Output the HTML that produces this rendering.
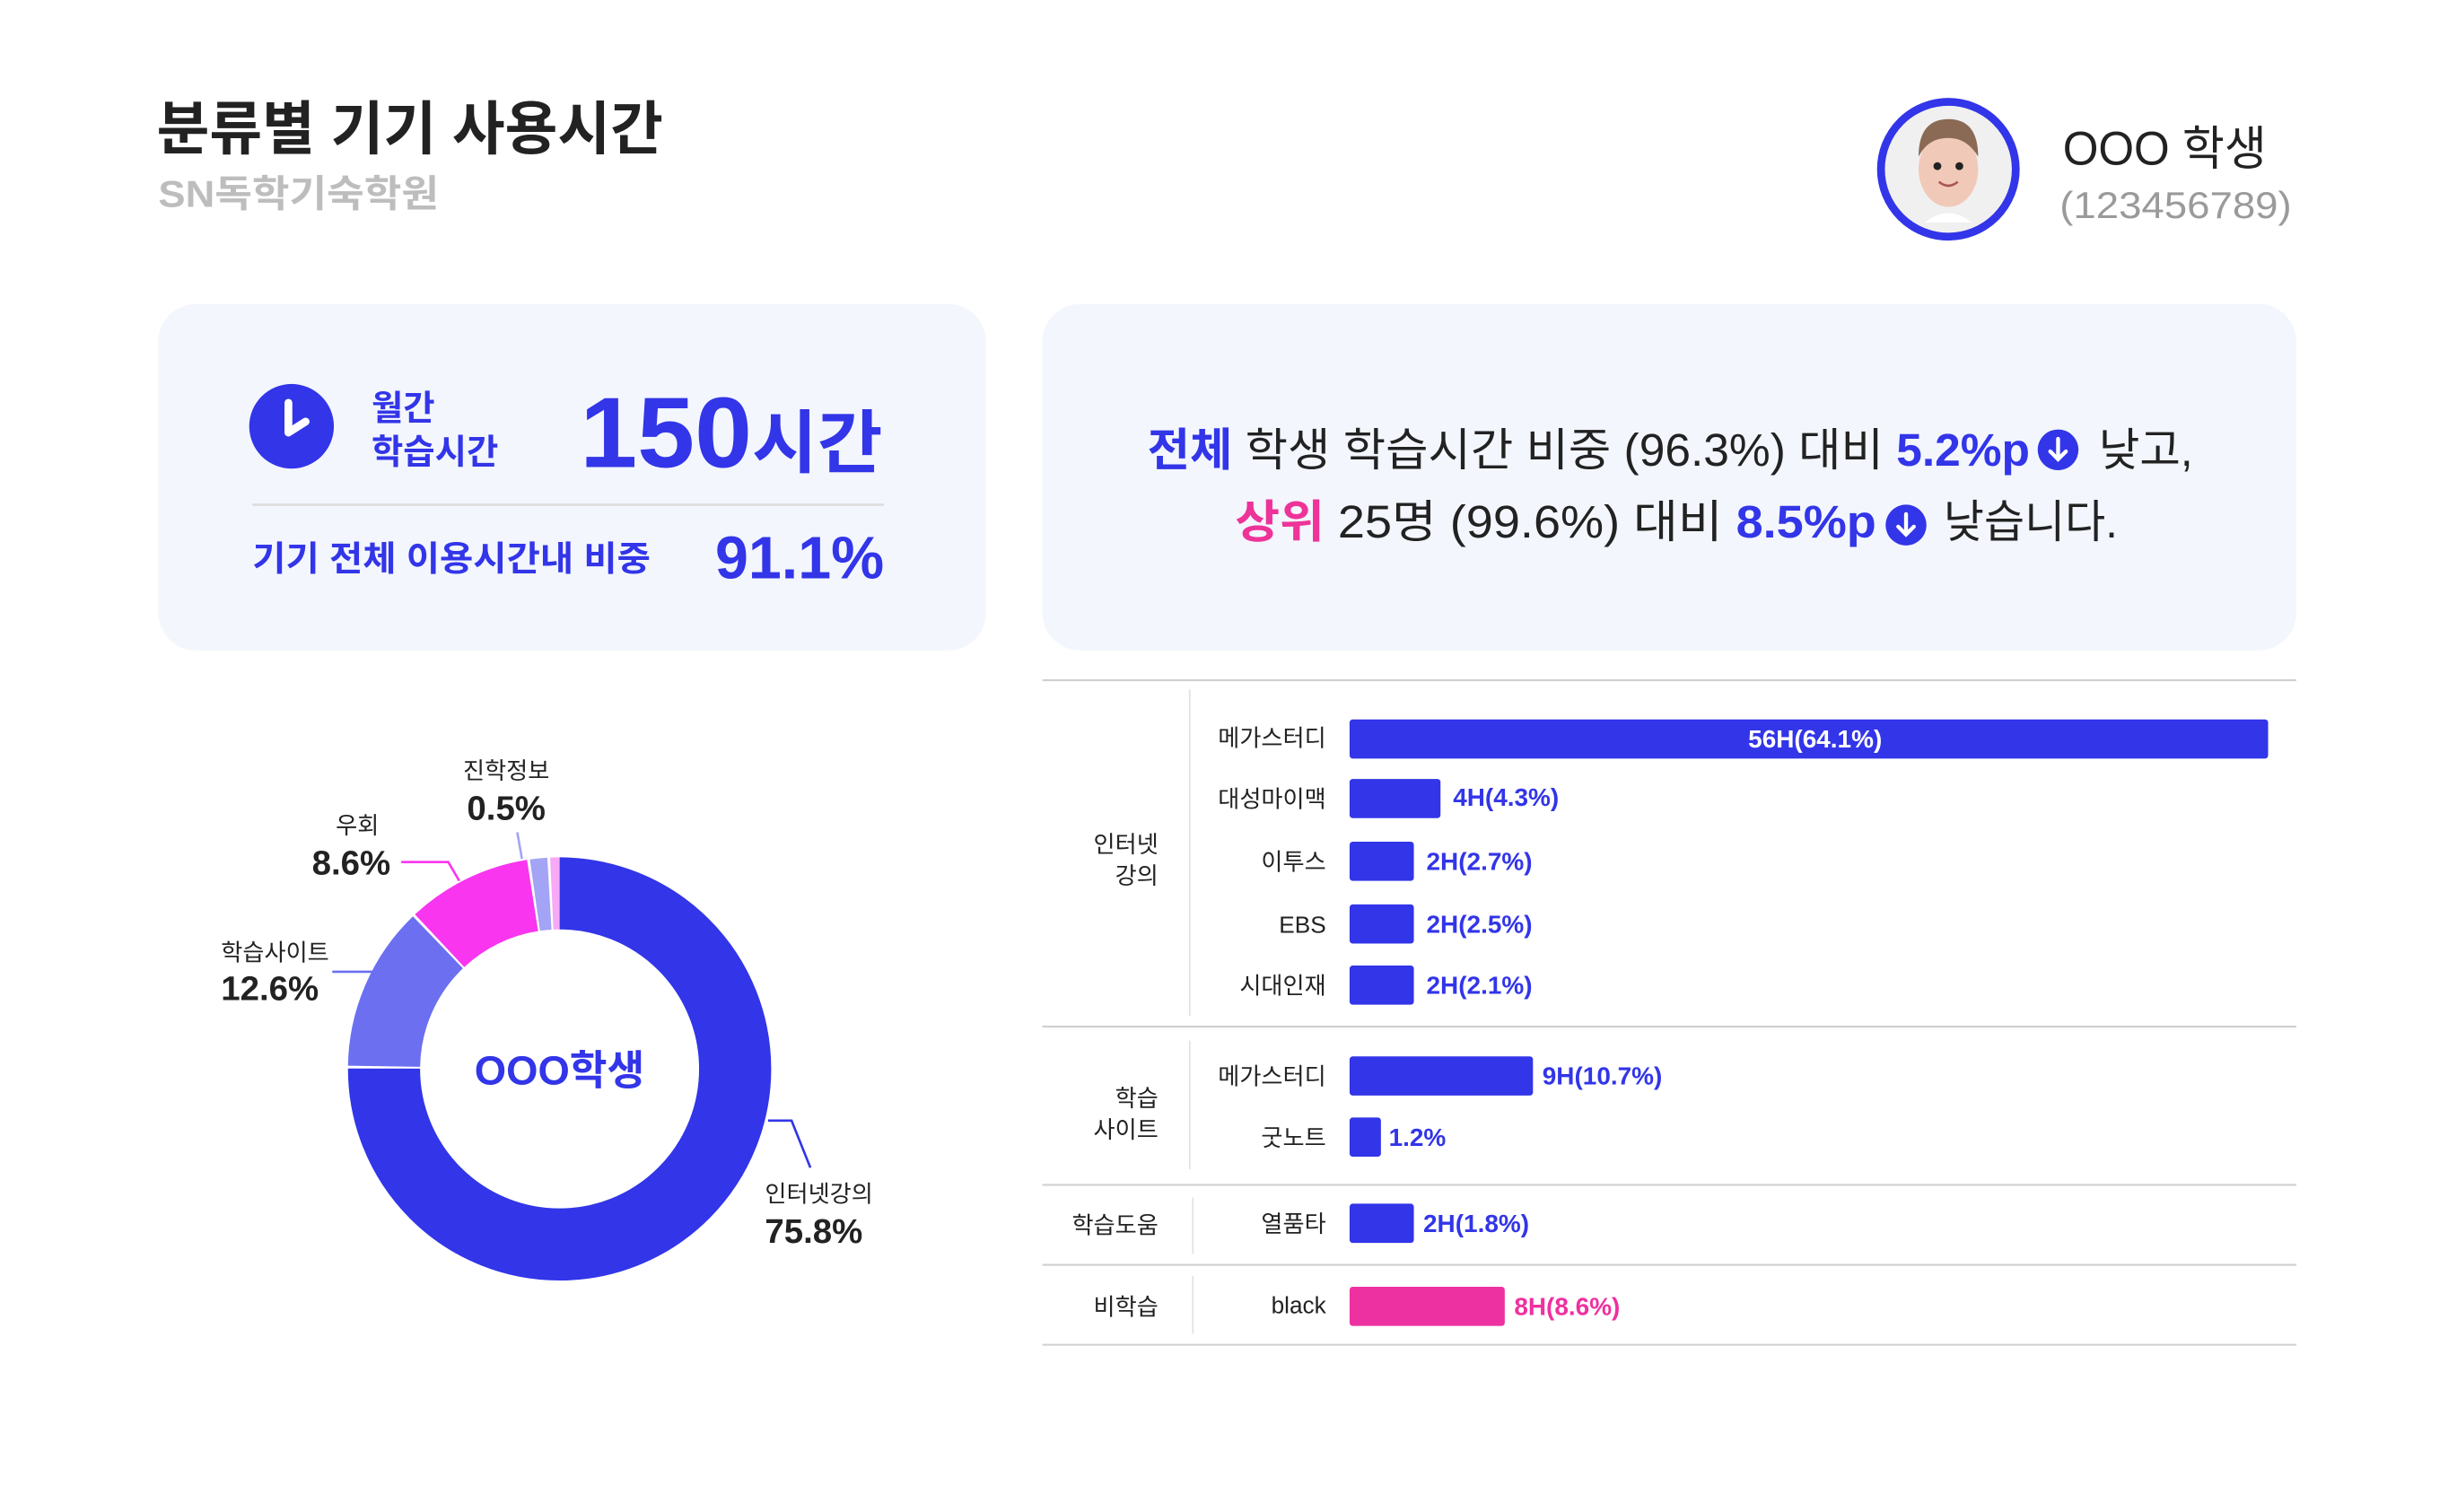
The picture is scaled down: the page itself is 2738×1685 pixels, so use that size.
<!DOCTYPE html>
<html><head><meta charset="utf-8"><style>html,body{margin:0;padding:0;background:#fff}svg{display:block}text{font-family:"Liberation Sans","Noto Sans CJK KR",sans-serif}</style></head>
<body>
<svg width="2738" height="1685" viewBox="0 0 1567.5 964.7" preserveAspectRatio="none" xmlns="http://www.w3.org/2000/svg">
<rect width="1568" height="965" fill="#fff"/>
<text x="100" y="95" font-size="37" font-weight="700" fill="#222" textLength="323" lengthAdjust="spacingAndGlyphs">분류별 기기 사용시간</text>
<text x="101" y="132" font-size="24" font-weight="700" fill="#bdbdbd" textLength="179" lengthAdjust="spacingAndGlyphs">SN독학기숙학원</text>

<circle cx="1243" cy="108" r="43" fill="#f0f0f0" stroke="#3235e8" stroke-width="5"/>
<ellipse cx="1243" cy="108" rx="19" ry="24" fill="#f1c9b8"/>
<path d="M1224 100 Q1224 76 1243 76 Q1262 76 1262 100 Q1255 88 1243 88 Q1230 88 1224 100Z" fill="#8a6a55"/>
<circle cx="1236" cy="106" r="2.5" fill="#222"/><circle cx="1250" cy="106" r="2.5" fill="#222"/>
<path d="M1237 116 Q1243 121 1249 116" stroke="#a55" stroke-width="1.5" fill="none"/>
<path d="M1228 142 Q1243 130 1258 142" fill="#fff"/>
<text x="1316" y="105" font-size="30" fill="#222" textLength="130" lengthAdjust="spacingAndGlyphs">OOO 학생</text>
<text x="1314" y="139" font-size="24" fill="#9a9a9a" textLength="148" lengthAdjust="spacingAndGlyphs">(123456789)</text>

<rect x="101" y="194" width="528" height="221" rx="24" fill="#f3f6fd"/>
<circle cx="186" cy="272" r="27" fill="#3235e8"/>
<path d="M184 257 V276 L195 269" stroke="#fff" stroke-width="5" stroke-linecap="round" stroke-linejoin="round" fill="none"/>
<text x="237" y="268" font-size="22" font-weight="700" fill="#3235e8">월간</text>
<text x="237" y="296" font-size="22" font-weight="700" fill="#3235e8">학습시간</text>
<text x="370" y="298" font-size="64" font-weight="700" fill="#3235e8" textLength="193" lengthAdjust="spacingAndGlyphs">150<tspan font-size="44">시간</tspan></text>
<line x1="161" y1="322" x2="564" y2="322" stroke="#dcdcdc" stroke-width="1.5"/>
<text x="161" y="364" font-size="22" font-weight="700" fill="#3235e8" textLength="254" lengthAdjust="spacingAndGlyphs">기기 전체 이용시간내 비중</text>
<text x="564" y="369" font-size="38" font-weight="700" fill="#3235e8" text-anchor="end">91.1%</text>

<rect x="665" y="194" width="800" height="221" rx="24" fill="#f3f6fd"/>
<text x="732" y="297" font-size="29" fill="#222" textLength="563" lengthAdjust="spacingAndGlyphs"><tspan fill="#3235e8" font-weight="700">전체</tspan> 학생 학습시간 비중 (96.3%) 대비 <tspan fill="#3235e8" font-weight="700">5.2%p</tspan></text>
<circle cx="1313" cy="287" r="13" fill="#3235e8"/>
<path d="M1313 280 V293 M1308 288 L1313 293 L1318 288" stroke="#fff" stroke-width="2.5" fill="none" stroke-linecap="round"/>
<text x="1339" y="297" font-size="29" fill="#222" textLength="60" lengthAdjust="spacingAndGlyphs">낮고,</text>
<text x="788" y="343" font-size="29" fill="#222" textLength="409" lengthAdjust="spacingAndGlyphs"><tspan fill="#ee3399" font-weight="700">상위</tspan> 25명 (99.6%) 대비  <tspan fill="#3235e8" font-weight="700">8.5%p</tspan></text>
<circle cx="1216" cy="335" r="13" fill="#3235e8"/>
<path d="M1216 328 V341 M1211 336 L1216 341 L1221 336" stroke="#fff" stroke-width="2.5" fill="none" stroke-linecap="round"/>
<text x="1240" y="343" font-size="29" fill="#222" textLength="111" lengthAdjust="spacingAndGlyphs">낮습니다.</text>

<g transform="rotate(-90 357 682)" fill="none" stroke-width="46">
<circle cx="357" cy="682" r="112" stroke="#3235e8" stroke-dasharray="527.8 1000"/>
<circle cx="357" cy="682" r="112" stroke="#6b6ff0" stroke-dasharray="88.4 1000" stroke-dashoffset="-529.3"/>
<circle cx="357" cy="682" r="112" stroke="#f935f0" stroke-dasharray="66.9 1000" stroke-dashoffset="-619.2"/>
<circle cx="357" cy="682" r="112" stroke="#a3a4f5" stroke-dasharray="9.3 1000" stroke-dashoffset="-687.6"/>
<circle cx="357" cy="682" r="112" stroke="#f8a9f5" stroke-dasharray="5.2 1000" stroke-dashoffset="-698.4"/>
</g>
<text x="357" y="692" font-size="26" font-weight="700" fill="#3235e8" text-anchor="middle">OOO학생</text>
<text x="323" y="497" font-size="15" fill="#222" text-anchor="middle">진학정보</text>
<text x="323" y="523" font-size="22" font-weight="700" fill="#222" text-anchor="middle">0.5%</text>
<line x1="330" y1="531" x2="333" y2="548" stroke="#a3a4f5" stroke-width="1.5"/>
<text x="228" y="532" font-size="15" fill="#222" text-anchor="middle">우회</text>
<text x="199" y="558" font-size="22" font-weight="700" fill="#222">8.6%</text>
<polyline points="256,550 286,550 293,562" stroke="#f935f0" stroke-width="1.5" fill="none"/>
<text x="141" y="613" font-size="15" fill="#222">학습사이트</text>
<text x="141" y="638" font-size="22" font-weight="700" fill="#222">12.6%</text>
<line x1="212" y1="620" x2="238" y2="620" stroke="#6b6ff0" stroke-width="1.5"/>
<text x="488" y="767" font-size="15" fill="#222">인터넷강의</text>
<text x="488" y="793" font-size="22" font-weight="700" fill="#222">75.8%</text>
<polyline points="490,715 505,715 517,745" stroke="#3235e8" stroke-width="1.5" fill="none"/>

<g stroke="#cfcfcf" stroke-width="1.2">
<line x1="665" y1="434" x2="1465" y2="434"/><line x1="665" y1="655" x2="1465" y2="655"/>
<line x1="665" y1="756" x2="1465" y2="756"/><line x1="665" y1="807" x2="1465" y2="807"/>
<line x1="665" y1="858" x2="1465" y2="858"/>
</g>
<g stroke="#e2e2e2" stroke-width="1">
<line x1="759" y1="440" x2="759" y2="648"/><line x1="759" y1="664" x2="759" y2="746"/>
<line x1="761" y1="764" x2="761" y2="800"/><line x1="761" y1="814" x2="761" y2="851"/>
</g>
<g font-size="15" fill="#222" text-anchor="end">
<text x="739" y="544">인터넷</text><text x="739" y="564">강의</text>
<text x="739" y="706">학습</text><text x="739" y="726">사이트</text>
<text x="739" y="787">학습도움</text><text x="739" y="839">비학습</text>
<text x="846" y="476">메가스터디</text><text x="846" y="515">대성마이맥</text>
<text x="846" y="555">이투스</text><text x="846" y="595">EBS</text>
<text x="846" y="634">시대인재</text><text x="846" y="692">메가스터디</text>
<text x="846" y="731">굿노트</text><text x="846" y="786">열품타</text>
<text x="846" y="838">black</text>
</g>
<g fill="#3235e8">
<rect x="861" y="459" width="586" height="25" rx="2"/>
<rect x="861" y="497" width="58" height="25" rx="2"/>
<rect x="861" y="537" width="41" height="25" rx="2"/>
<rect x="861" y="577" width="41" height="25" rx="2"/>
<rect x="861" y="616" width="41" height="25" rx="2"/>
<rect x="861" y="674" width="117" height="25" rx="2"/>
<rect x="861" y="713" width="20" height="25" rx="2"/>
<rect x="861" y="768" width="41" height="25" rx="2"/>
</g>
<rect x="861" y="821" width="99" height="25" rx="2" fill="#ee31a0"/>
<text x="1158" y="477" font-size="16" font-weight="700" fill="#fff" text-anchor="middle">56H(64.1%)</text>
<g font-size="16" font-weight="700" fill="#3235e8">
<text x="927" y="514">4H(4.3%)</text><text x="910" y="555">2H(2.7%)</text>
<text x="910" y="595">2H(2.5%)</text><text x="910" y="634">2H(2.1%)</text>
<text x="984" y="692">9H(10.7%)</text><text x="886" y="731">1.2%</text>
<text x="908" y="786">2H(1.8%)</text>
</g>
<text x="966" y="839" font-size="16" font-weight="700" fill="#ee31a0">8H(8.6%)</text>
</svg>
</body></html>
